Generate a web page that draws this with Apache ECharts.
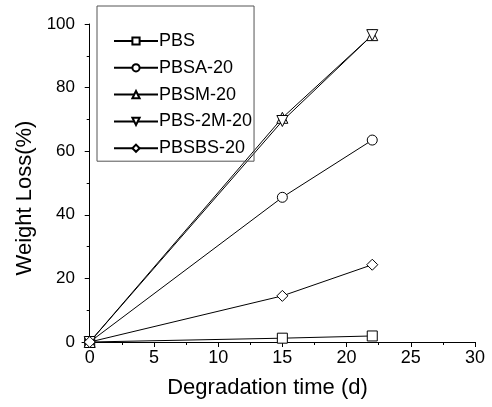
<!DOCTYPE html>
<html><head><meta charset="utf-8">
<script src="https://cdn.jsdelivr.net/npm/echarts@6/dist/echarts.min.js"></script>
<style>html,body{margin:0;padding:0;background:#fff}#c{width:492px;height:407px}</style>
</head><body><div id="c"></div>
<script>
var days = [0, 15, 22];
var seriesNames = ['PBS', 'PBSA-20', 'PBSM-20', 'PBS-2M-20', 'PBSBS-20'];
var PBS = [0, 1.2, 1.9];
var PBSA20 = [0, 45.5, 63.5];
var PBSM20 = [0, 70.5, 96.5];
var PBS2M20 = [0, 69.5, 96.5];
var PBSBS20 = [0, 14.5, 24.3];
var xTicks = [0, 5, 10, 15, 20, 25, 30];
var xMinorTicks = [2.5, 7.5, 12.5, 17.5, 22.5, 27.5];
var yTicks = [0, 20, 40, 60, 80, 100];

var values = [PBS, PBSA20, PBSM20, PBS2M20, PBSBS20];
var symbols = ['rect', 'circle', 'triangle', 'path://M0,0 L10,0 L5,10 Z', 'diamond'];
var sizes = [10, 10, 11, 11, 11];
var font = 'Liberation Sans';

var chart = echarts.init(document.getElementById('c'), null, {renderer: 'canvas'});
chart.setOption({
  animation: false,
  backgroundColor: '#fff',
  grid: {left: 82, right: 17, top: 24, bottom: 65, containLabel: false},
  legend: {
    orient: 'vertical', left: 97, top: 6,
    padding: [26, 2, 4, 16],
    itemWidth: 44, itemHeight: 9, itemGap: 8.8,
    borderColor: '#555', borderWidth: 1,
    textStyle: {fontFamily: font, fontSize: 18, lineHeight: 14, color: '#000', padding: [0,0,0,-4]},
    data: seriesNames
  },
  xAxis: [{
    type: 'value', min: -0.6, max: 30,
    name: 'Degradation time (d)', nameLocation: 'middle', nameGap: 35,
    nameTextStyle: {fontFamily: font, fontSize: 22, color: '#000', padding: [0, 22, 0, 0]},
    axisLine: {lineStyle: {color: '#000', width: 1}},
    axisTick: {customValues: xTicks, length: 5, lineStyle: {color: '#000'}},
    axisLabel: {customValues: xTicks, fontFamily: font, fontSize: 18, color: '#000', margin: 7},
    splitLine: {show: false}
  }, {
    type: 'value', min: -0.6, max: 30, position: 'bottom',
    axisLine: {show: false},
    axisTick: {customValues: xMinorTicks, length: 3, lineStyle: {color: '#000'}},
    axisLabel: {show: false},
    splitLine: {show: false}
  }],
  yAxis: {
    type: 'value', min: 0, max: 100, interval: 20,
    name: 'Weight Loss(%)', nameLocation: 'middle', nameGap: 45,
    nameTextStyle: {fontFamily: font, fontSize: 22, color: '#000', padding: [0, 30, 0, 0]},
    axisLine: {show: true, lineStyle: {color: '#000', width: 1}},
    axisTick: {show: true, length: 5, lineStyle: {color: '#000'}},
    minorTick: {show: true, splitNumber: 2, length: 3, lineStyle: {color: '#000'}},
    axisLabel: {customValues: yTicks, fontFamily: font, fontSize: 17, color: '#000', margin: 7},
    splitLine: {show: false}
  },
  series: seriesNames.map(function (n, i) {
    return {
      name: n, type: 'line', xAxisIndex: 0,
      data: days.map(function (d, j) { return [d, values[i][j]]; }),
      symbol: symbols[i], symbolSize: sizes[i], showAllSymbol: true,
      lineStyle: {color: '#000', width: 1},
      itemStyle: {color: '#fff', borderColor: '#000', borderWidth: 1},
      emphasis: {disabled: true}
    };
  })
});
</script></body></html>
